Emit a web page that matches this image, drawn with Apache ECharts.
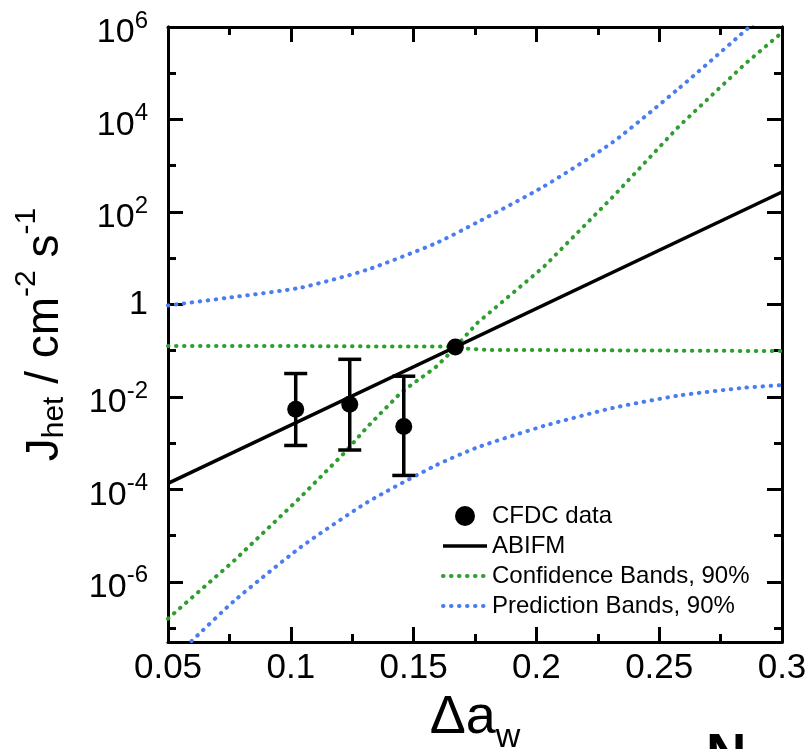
<!DOCTYPE html>
<html>
<head>
<meta charset="utf-8">
<title>J_het vs Δa_w</title>
<script src="https://cdn.jsdelivr.net/npm/echarts@6/dist/echarts.min.js"></script>
<style>
  html, body { margin: 0; padding: 0; background: #fff; }
  #chart { width: 809px; height: 749px; }
</style>
</head>
<body>
<div id="chart"></div>
<script>
// CFDC measurements: Δa_w, J_het (cm^-2 s^-1) and the ends of the error bars
const cfdcX = [0.102, 0.124, 0.146, 0.167];
const cfdcY = [5.4e-3, 6.9e-3, 2.3e-3, 0.12];
const cfdcLow = [8.9e-4, 7.1e-4, 2.0e-4];
const cfdcHigh = [3.2e-2, 6.5e-2, 2.8e-2];

// ABIFM fit
const fitX = [0.05, 0.3];
const fitY = [1.35e-4, 270];

// 90% confidence bands
const confUpperX = [0.05, 0.10, 0.14, 0.160, 0.167, 0.176, 0.203, 0.231, 0.258, 0.285, 0.30];
const confUpperY = [0.126, 0.126, 0.123, 0.123, 0.12, 0.40, 6.5, 209, 7.1e3, 1.6e5, 7.6e5];
const confLowerX = [0.05, 0.077, 0.104, 0.122, 0.131, 0.145, 0.159, 0.167, 0.18, 0.22, 0.26, 0.30];
const confLowerY = [1.6e-7, 2.9e-6, 6.8e-5, 6.3e-4, 2.2e-3, 1.26e-2, 4.4e-2, 0.115, 0.104, 0.102, 0.1, 0.098];

// 90% prediction bands (dotted blue curves)
const predUpperX = [0.05, 0.077, 0.104, 0.131, 0.159, 0.176, 0.203, 0.231, 0.258, 0.286, 0.295];
const predUpperY = [0.95, 1.45, 2.3, 5.6, 21, 60, 355, 3.2e3, 4.7e4, 9.3e5, 2.6e6];
const predLowerX = [0.05, 0.059, 0.077, 0.104, 0.131, 0.159, 0.176, 0.203, 0.231, 0.258, 0.285, 0.30];
const predLowerY = [1.8e-8, 4.9e-8, 3.9e-7, 5.6e-6, 5.2e-5, 3.3e-4, 8.1e-4, 2.35e-3, 5.75e-3, 1.07e-2, 1.58e-2, 1.8e-2];

// axis ticks
const yMajorTicks = [1e-6, 1e-4, 1e-2, 1, 1e2, 1e4, 1e6];
const yMinorTicks = [1e-7, 1e-5, 1e-3, 1e-1, 1e1, 1e3, 1e5];

const FONT = '"Liberation Sans", Arial, Helvetica, sans-serif';
const GREEN = '#2f9e2f';
const BLUE = '#4a7ef0';

function zip(xs, ys) {
  return xs.map((x, i) => [x, ys[i]]);
}

function decadeLabel(v) {
  const e = Math.round(Math.log10(v));
  return e === 0 ? '{one|1}' : '{base|10}{sup|' + e + '}';
}

const yMin = 5e-8, yMax = 1e6;

function yAxisDef(position, ticks, len, withLabels) {
  return {
    type: 'log',
    position: position,
    min: yMin,
    max: yMax,
    axisLine: { show: true, onZero: false, lineStyle: { color: '#000', width: 3 } },
    axisTick: { show: true, inside: true, length: len, customValues: ticks,
      lineStyle: { color: '#000', width: 3 } },
    axisLabel: {
      show: withLabels,
      customValues: ticks,
      margin: 20,
      formatter: decadeLabel,
      color: '#000',
      fontFamily: FONT,
      rich: {
        base: { fontSize: 34, fontFamily: FONT, color: '#000', lineHeight: 30, padding: [12, 0, 0, 0] },
        sup: { fontSize: 24, fontFamily: FONT, color: '#000', lineHeight: 30, padding: [0, 0, 12, 0] },
        one: { fontSize: 34, fontFamily: FONT, color: '#000', lineHeight: 30 }
      }
    },
    splitLine: { show: false }
  };
}

function xAxisDef(position, withLabels) {
  return {
    type: 'value',
    position: position,
    min: 0.05,
    max: 0.3,
    interval: 0.05,
    axisLine: { show: true, onZero: false, lineStyle: { color: '#000', width: 3 } },
    axisTick: { show: true, inside: true, length: 15, lineStyle: { color: '#000', width: 3 } },
    minorTick: { show: true, splitNumber: 2, length: 8, lineStyle: { color: '#000', width: 3 } },
    axisLabel: {
      show: withLabels,
      margin: 9,
      fontSize: 35,
      color: '#000',
      fontFamily: FONT,
      formatter: v => String(+v.toFixed(3))
    },
    splitLine: { show: false }
  };
}

const chart = echarts.init(document.getElementById('chart'));

const xBottom = xAxisDef('bottom', true);
xBottom.name = '{b|Δa}{sub|w}';
xBottom.nameLocation = 'middle';
xBottom.nameGap = 44;
xBottom.nameTextStyle = {
  rich: {
    b: { fontSize: 54, fontFamily: FONT, color: '#000', lineHeight: 54, padding: [0, 0, 10, 0] },
    sub: { fontSize: 34, fontFamily: FONT, color: '#000', lineHeight: 34, padding: [30, 0, 0, 0] }
  }
};

const yLeft = yAxisDef('left', yMajorTicks, 15, true);
yLeft.name = '{b|J}{sub|het}{b| / cm}{sup|-2}{b| s}{sup|-1}';
yLeft.nameLocation = 'middle';
yLeft.nameGap = 96;
yLeft.nameTextStyle = {
  rich: {
    b: { fontSize: 46, fontFamily: FONT, color: '#000', lineHeight: 46, padding: [10, 0, 10, 0] },
    sup: { fontSize: 30, fontFamily: FONT, color: '#000', lineHeight: 30, padding: [0, 0, 36, 0] },
    sub: { fontSize: 30, fontFamily: FONT, color: '#000', lineHeight: 30, padding: [28, 0, 8, 0] }
  }
};

const dotted = (color) => ({ color: color, width: 4, type: [0.5, 7.5], cap: 'round' });
// legend rows for lines: hide the marker that ECharts puts on a line icon
const noMarker = { opacity: 0 };

chart.setOption({
  animation: false,
  backgroundColor: '#fff',
  grid: { left: 168, top: 27, right: 27, bottom: 107, containLabel: false, outerBoundsMode: 'none' },
  xAxis: [xBottom, xAxisDef('top', false)],
  yAxis: [
    yLeft,
    yAxisDef('left', yMinorTicks, 8, false),
    yAxisDef('right', yMajorTicks, 15, false),
    yAxisDef('right', yMinorTicks, 8, false)
  ],
  legend: {
    orient: 'vertical',
    left: 436,
    top: 496,
    itemWidth: 44,
    itemHeight: 20,
    itemGap: 0,
    selectedMode: false,
    textStyle: { fontSize: 24, fontFamily: FONT, color: '#000', lineHeight: 30 },
    data: [
      { name: 'CFDC data', itemStyle: { opacity: 1 } },
      { name: 'ABIFM', itemStyle: noMarker, lineStyle: { width: 3.5 } },
      { name: 'Confidence Bands, 90%', itemStyle: noMarker, lineStyle: { width: 4 } },
      { name: 'Prediction Bands, 90%', itemStyle: noMarker, lineStyle: { width: 4 } }
    ]
  },
  series: [
    {
      name: 'Prediction Bands, 90%', type: 'line', data: zip(predUpperX, predUpperY),
      symbol: 'none', smooth: 0.2, lineStyle: dotted(BLUE), itemStyle: { color: BLUE }, z: 2
    },
    {
      name: 'Prediction Bands, 90%', type: 'line', data: zip(predLowerX, predLowerY),
      symbol: 'none', smooth: 0.2, lineStyle: dotted(BLUE), itemStyle: { color: BLUE }, z: 2
    },
    {
      name: 'Confidence Bands, 90%', type: 'line', data: zip(confUpperX, confUpperY),
      symbol: 'none', lineStyle: dotted(GREEN), itemStyle: { color: GREEN }, z: 3
    },
    {
      name: 'Confidence Bands, 90%', type: 'line', data: zip(confLowerX, confLowerY),
      symbol: 'none', lineStyle: dotted(GREEN), itemStyle: { color: GREEN }, z: 3
    },
    {
      name: 'ABIFM', type: 'line', data: zip(fitX, fitY),
      symbol: 'none', lineStyle: { color: '#000', width: 3.5 }, itemStyle: { color: '#000' }, z: 4
    },
    {
      name: 'errors', type: 'custom', z: 5,
      data: cfdcLow.map((lo, i) => [cfdcX[i], lo, cfdcHigh[i]]),
      encode: { x: 0, y: [1, 2] },
      renderItem: function (params, api) {
        const lo = api.coord([api.value(0), api.value(1)]);
        const hi = api.coord([api.value(0), api.value(2)]);
        const w = 11.5;
        const st = { stroke: '#000', lineWidth: 3.5 };
        return {
          type: 'group',
          children: [
            { type: 'line', shape: { x1: lo[0], y1: lo[1], x2: hi[0], y2: hi[1] }, style: st },
            { type: 'line', shape: { x1: lo[0] - w, y1: lo[1], x2: lo[0] + w, y2: lo[1] }, style: st },
            { type: 'line', shape: { x1: hi[0] - w, y1: hi[1], x2: hi[0] + w, y2: hi[1] }, style: st }
          ]
        };
      }
    },
    {
      name: 'CFDC data', type: 'scatter', data: zip(cfdcX, cfdcY),
      symbol: 'circle', symbolSize: 17, itemStyle: { color: '#000', opacity: 1 }, z: 6
    }
  ],
  graphic: [
    { type: 'text', left: 706, top: 729, style: { text: 'N', font: 'bold 56px ' + FONT, fill: '#000' } }
  ]
});
</script>
</body>
</html>
